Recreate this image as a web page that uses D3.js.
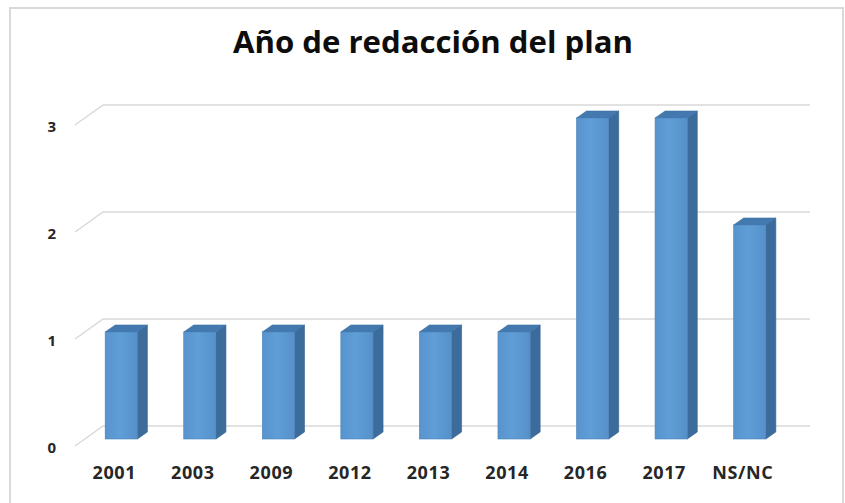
<!DOCTYPE html>
<html>
<head>
<meta charset="utf-8">
<script src="https://cdn.jsdelivr.net/npm/d3@7"></script>
<style>
  html, body { margin: 0; padding: 0; background: #fff; }
  svg { display: block; }
</style>
</head>
<body>
<svg id="chart" width="845" height="503"></svg>
<script>
// Year the plan was written: number of plans per year
const categories = ["2001", "2003", "2009", "2012", "2013", "2014", "2016", "2017", "NS/NC"];
const counts = [1, 1, 1, 1, 1, 1, 3, 3, 2];
const yTicks = [0, 1, 2, 3];
const title = "Año de redacción del plan";

const svg = d3.select("#chart");
const W = 845, H = 503;

// chart frame
svg.append("rect")
  .attr("x", 10).attr("y", 8)
  .attr("width", W - 12).attr("height", H)
  .attr("fill", "#fff")
  .attr("stroke", "#d9d9d9").attr("stroke-width", 2);

// 3D geometry: floor depth and bar depth offsets
const floorDx = 28, floorDy = -20;
const barShiftX = 7, barShiftY = -7;
const barDx = 10, barDy = -7;

const x = d3.scaleBand()
  .domain(categories)
  .range([75, 782])
  .paddingInner(0.59)
  .paddingOuter(0.295);

const y = d3.scaleLinear()
  .domain([0, 3])
  .range([446, 125]);

const font = "'Open Sans', 'Liberation Sans', sans-serif";

// back-wall gridlines with the side-wall diagonal
const grid = svg.append("g").attr("fill", "none").attr("stroke", "#d9d9d9").attr("stroke-width", 1.5);
yTicks.forEach(v => {
  grid.append("path")
    .attr("d", `M${75},${y(v)} L${75 + floorDx},${y(v) + floorDy} L${810},${y(v) + floorDy}`);
});

// y axis labels
const yAxis = d3.axisLeft(y).tickValues(yTicks).tickSize(0).tickPadding(0).tickFormat(d3.format("d"));
const gy = svg.append("g").attr("transform", "translate(56,2)").call(yAxis);
gy.select(".domain").remove();
gy.selectAll("text")
  .attr("font-family", font).attr("font-weight", "bold")
  .attr("font-size", 15).attr("fill", "#262626");

// x axis labels
const xAxis = d3.axisBottom(x).tickSize(0).tickPadding(0);
const gx = svg.append("g").attr("transform", "translate(0,466)").call(xAxis);
gx.select(".domain").remove();
gx.selectAll("text")
  .attr("font-family", font).attr("font-weight", "bold")
  .attr("font-size", 18).attr("fill", "#262626")
  .attr("letter-spacing", "0.6px")
  .attr("dy", "0.71em");

// front-face shading
const defs = svg.append("defs");
const grad = defs.append("linearGradient").attr("id", "front").attr("x1", 0).attr("x2", 1).attr("y1", 0).attr("y2", 0);
grad.append("stop").attr("offset", "0%").attr("stop-color", "#5893cc");
grad.append("stop").attr("offset", "45%").attr("stop-color", "#5f9ed8");
grad.append("stop").attr("offset", "100%").attr("stop-color", "#5690c9");

// 3D bars
const bars = svg.append("g").selectAll("g")
  .data(categories.map((c, i) => ({ c, v: counts[i] })))
  .join("g");

bars.each(function(d) {
  const g = d3.select(this);
  const x0 = x(d.c) + barShiftX;
  const w = x.bandwidth();
  const yb = y(0) + barShiftY;
  const yt = y(d.v) + barShiftY;
  // side face
  g.append("path")
    .attr("d", `M${x0 + w},${yb} L${x0 + w + barDx},${yb + barDy} L${x0 + w + barDx},${yt + barDy} L${x0 + w},${yt} Z`)
    .attr("fill", "#3b6c9c").attr("stroke", "#35628d").attr("stroke-width", 0.6);
  // top face
  g.append("path")
    .attr("d", `M${x0},${yt} L${x0 + barDx},${yt + barDy} L${x0 + w + barDx},${yt + barDy} L${x0 + w},${yt} Z`)
    .attr("fill", "#4479b0").attr("stroke", "#3d6e9f").attr("stroke-width", 0.6);
  // front face
  g.append("rect")
    .attr("x", x0).attr("y", yt)
    .attr("width", w).attr("height", yb - yt)
    .attr("fill", "url(#front)").attr("stroke", "#4a82ba").attr("stroke-width", 0.6);
});

// title
svg.append("text")
  .attr("x", 433).attr("y", 53)
  .attr("text-anchor", "middle")
  .attr("font-family", font).attr("font-weight", "bold")
  .attr("font-size", 30).attr("fill", "#0d0d0d")
  .attr("textLength", 400).attr("lengthAdjust", "spacingAndGlyphs")
  .text(title);
</script>
</body>
</html>
